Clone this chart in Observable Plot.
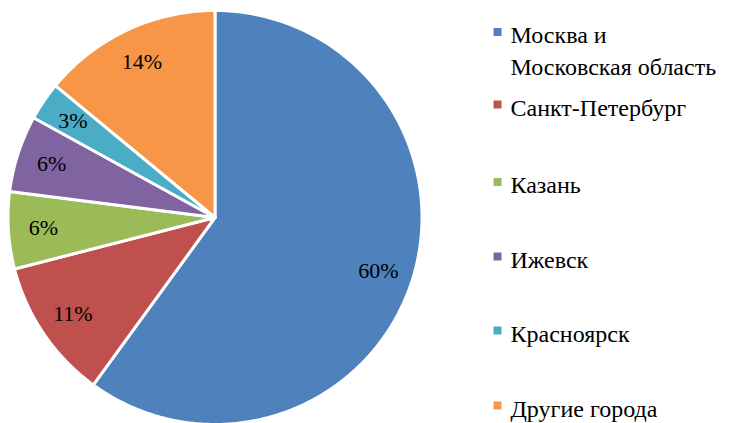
<!DOCTYPE html>
<html>
<head>
<meta charset="utf-8">
<script src="https://cdn.jsdelivr.net/npm/d3@7"></script>
<script src="https://cdn.jsdelivr.net/npm/@observablehq/plot@0.6"></script>
</head>
<body style="margin:0;background:#fff">
<div id="chart"></div>
<script>
// ---- data ----
const cities = ["Москва и\nМосковская область", "Санкт-Петербург", "Казань", "Ижевск", "Красноярск", "Другие города"];
const shares = [60, 11, 6, 6, 3, 14];
const shareLabels = ["60%", "11%", "6%", "6%", "3%", "14%"];
const colors = ["#4F81BD", "#C0504D", "#9BBB59", "#8064A2", "#4BACC6", "#F79646"];

// ---- layout ----
const W = 744, H = 423;
const cx = 214.5, cy = 217, R = 207;
const labelR = 0.83 * R;
const legendMarkerX = 497, legendTextX = 510;
const legendY = [31.5, 104, 181.5, 256, 330, 405];
const fontSerif = "Liberation Serif";

const arcs = d3.pie().sort(null).startAngle(0).endAngle(2 * Math.PI)(shares);

const slicePts = [];
arcs.forEach((a, i) => {
  const n = Math.max(4, Math.ceil((a.endAngle - a.startAngle) / (Math.PI / 180)));
  slicePts.push({city: cities[i], x: cx, y: cy});
  for (let k = 0; k <= n; k++) {
    const t = a.startAngle + (a.endAngle - a.startAngle) * k / n;
    slicePts.push({city: cities[i], x: cx + R * Math.sin(t), y: cy - R * Math.cos(t)});
  }
});

const labelData = arcs.map((a, i) => {
  const m = (a.startAngle + a.endAngle) / 2;
  return {label: shareLabels[i], x: cx + labelR * Math.sin(m), y: cy - labelR * Math.cos(m)};
});

const legendData = cities.map((c, i) => ({
  city: c,
  y: legendY[i],
  ty: i === 0 ? legendY[i] + 1 + 16 : legendY[i] + 1
}));

const chart = Plot.plot({
  width: W,
  height: H,
  margin: 0,
  x: {domain: [0, W], range: [0, W], axis: null},
  y: {domain: [0, H], range: [0, H], axis: null},
  color: {domain: cities, range: colors},
  marks: [
    Plot.line(slicePts, {x: "x", y: "y", z: "city", fill: "city", stroke: "white", strokeWidth: 3, strokeLinejoin: "round", curve: "linear-closed"}),
    Plot.text(labelData, {x: "x", y: "y", text: "label", fontSize: 22, fontFamily: fontSerif, fill: "#000"}),
    Plot.dot(legendData, {x: () => legendMarkerX, y: "y", fill: "city", symbol: "square", r: 4.5, stroke: null}),
    Plot.text(legendData, {x: () => legendTextX, y: "ty", text: "city", textAnchor: "start", fontSize: 24, fontFamily: fontSerif, lineHeight: 1.33, fill: "#000"})
  ]
});

d3.select(chart).style("font-family", fontSerif);
d3.select(chart).selectAll("text, tspan").style("font-family", fontSerif);
document.getElementById("chart").appendChild(chart);
</script>
</body>
</html>
